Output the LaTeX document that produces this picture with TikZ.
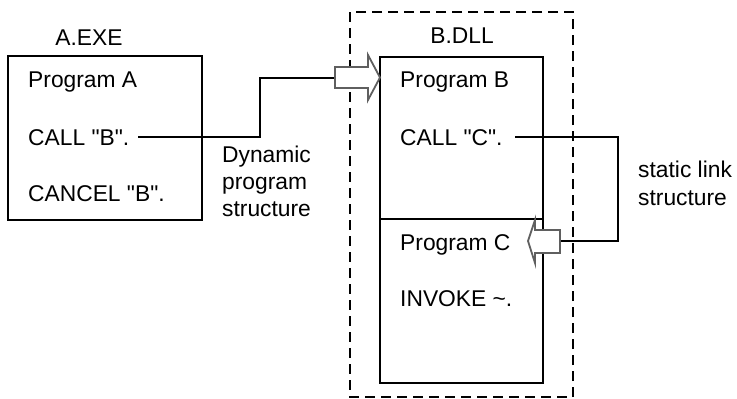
\documentclass[tikz,border=0pt]{standalone}
\usepackage{fontspec}
\setmainfont{Liberation Sans}[Ligatures=TeXOff]
\newcommand{\dq}{\symbol{34}}
\begin{document}
\begin{tikzpicture}[x=1pt,y=-1pt,
  lbl/.style={anchor=base west,inner sep=0pt,font=\fontsize{22.8}{27}\selectfont},
  ttl/.style={anchor=base,inner sep=0pt,font=\fontsize{22.8}{27}\selectfont},
  boxline/.style={draw=black,line width=1.5pt},
  dashbox/.style={draw=black,line width=2pt,dash pattern=on 10pt off 6pt},
  conn/.style={draw=black,line width=1.6pt},
  blockarrow/.style={fill=white,draw={rgb,255:red,95;green,95;blue,95},line width=1.8pt,line join=miter}]
\useasboundingbox (0,0) rectangle (737,399);
% dashed DLL container
\draw[dashbox] (350,12) rectangle (573,397);
% boxes
\draw[boxline] (8,56) rectangle (202,220);
\draw[boxline] (380,57) rectangle (543,219);
\draw[boxline] (380,219) rectangle (543,383);
% titles
\node[ttl] (aexe) at (89,45) {A.EXE};
\node[ttl] (bdll) at (462,43) {B.DLL};
% box texts
\node[lbl] (progA) at (28,87) {Program A};
\node[lbl] (callB) at (28,145) {CALL \dq B\dq.};
\node[lbl] (cancelB) at (28,201) {CANCEL \dq B\dq.};
\node[lbl] (progB) at (400,87) {Program B};
\node[lbl] (callC) at (400,145) {CALL \dq C\dq.};
\node[lbl] (progC) at (400,250) {Program C};
\node[lbl] (invoke) at (400,306) {INVOKE \char`~.};
% side labels
\node[lbl] (dyn1) at (222,162) {Dynamic};
\node[lbl] (dyn2) at (222,189) {program};
\node[lbl] (dyn3) at (222,216) {structure};
\node[lbl] (st1) at (638,177) {static link};
\node[lbl] (st2) at (638,205) {structure};
% connector end points
\coordinate (cBstart) at (138,137);
\coordinate (arrAtail) at (335,78);
\coordinate (cCstart) at (515,137);
\coordinate (arrCtail) at (560,241);
% connectors
\draw[conn] (cBstart) -- (260,137) |- (arrAtail);
\draw[conn] (cCstart) -- (618,137) |- (arrCtail);
% hollow block arrows
\draw[blockarrow] (arrAtail) -- (335,67) -- (368,67) -- (368,55) -- (380,77.5) -- (368,100) -- (368,88) -- (335,88) -- cycle;
\draw[blockarrow] (arrCtail) -- (560,230) -- (535,230) -- (535,220) -- (528,241) -- (535,263) -- (535,253) -- (560,253) -- cycle;
\end{tikzpicture}
\end{document}
